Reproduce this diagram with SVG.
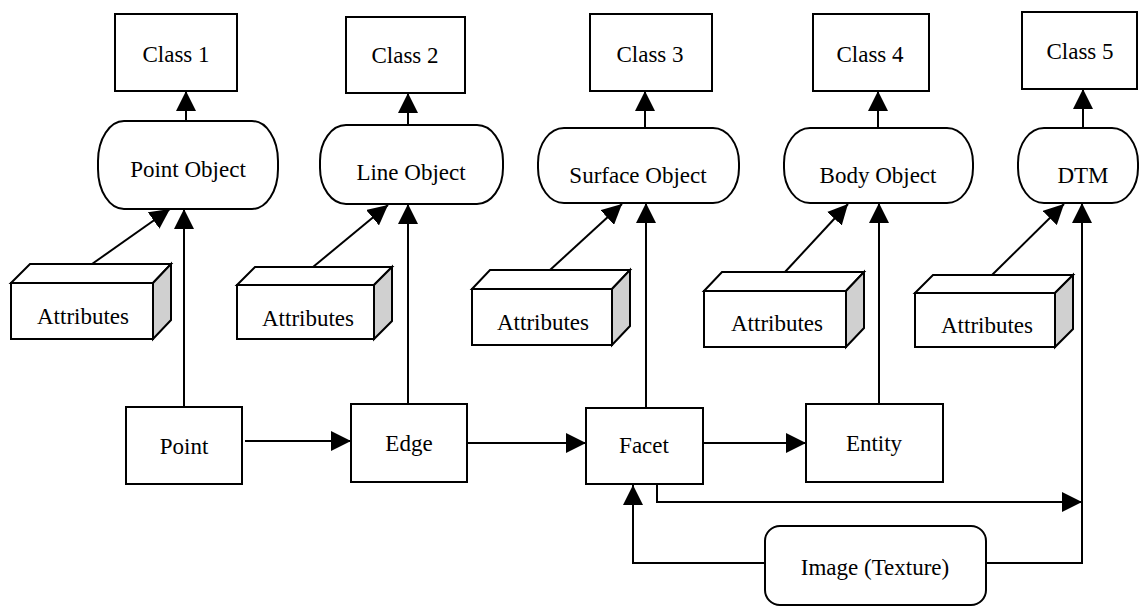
<svg xmlns="http://www.w3.org/2000/svg" width="1140" height="607" viewBox="0 0 1140 607">
<style>
.box{fill:#fff;stroke:#000;stroke-width:2}
.side{fill:#d0d0d0;stroke:#000;stroke-width:2;stroke-linejoin:miter}
.t{font-family:"Liberation Serif","Times New Roman",serif;font-size:23px;fill:#000;text-anchor:middle}
.c{fill:none;stroke:#000;stroke-width:2}
</style>
<defs>
<marker id="ah" markerUnits="userSpaceOnUse" markerWidth="20" markerHeight="20" refX="20" refY="10" orient="auto">
<path d="M0,0 L20,10 L0,20 z" fill="#000"/>
</marker>
</defs>
<rect width="1140" height="607" fill="#fff"/>

<g id="class1"><rect class="box" x="115" y="14" width="122" height="77"/><text class="t" x="176" y="62">Class 1</text></g>
<g id="class2"><rect class="box" x="346" y="17" width="119" height="76"/><text class="t" x="405" y="63">Class 2</text></g>
<g id="class3"><rect class="box" x="590" y="14" width="122" height="77"/><text class="t" x="650" y="62">Class 3</text></g>
<g id="class4"><rect class="box" x="813" y="14" width="116" height="77"/><text class="t" x="870" y="62">Class 4</text></g>
<g id="class5"><rect class="box" x="1022" y="12" width="115" height="77"/><text class="t" x="1080" y="59">Class 5</text></g>

<g id="pointObject"><rect class="box" x="98" y="121" width="180" height="88" rx="26" ry="40"/><text class="t" x="188" y="177">Point Object</text></g>
<g id="lineObject"><rect class="box" x="320" y="125" width="183" height="79" rx="26" ry="36"/><text class="t" x="411" y="180">Line Object</text></g>
<g id="surfaceObject"><rect class="box" x="538" y="128" width="201" height="75" rx="26" ry="35"/><text class="t" x="638" y="183">Surface Object</text></g>
<g id="bodyObject"><rect class="box" x="784" y="128" width="189" height="75" rx="26" ry="35"/><text class="t" x="878" y="183">Body Object</text></g>
<g id="dtm"><rect class="box" x="1018" y="128" width="120" height="75" rx="26" ry="35"/><text class="t" x="1083" y="183">DTM</text></g>

<g id="attributes1"><path class="box" d="M11,283 L30,264 L171,264 L153,283 Z"/><path class="side" d="M153,283 L171,264 L171,320 L153,339 Z"/><rect class="box" x="11" y="283" width="142" height="56"/><text class="t" x="83" y="324">Attributes</text></g>
<g id="attributes2"><path class="box" d="M237,285 L255,267 L392,267 L374,285 Z"/><path class="side" d="M374,285 L392,267 L392,321 L374,339 Z"/><rect class="box" x="237" y="285" width="137" height="54"/><text class="t" x="308" y="326">Attributes</text></g>
<g id="attributes3"><path class="box" d="M472,289 L490,270 L630,270 L612,289 Z"/><path class="side" d="M612,289 L630,270 L630,326 L612,345 Z"/><rect class="box" x="472" y="289" width="140" height="56"/><text class="t" x="543" y="330">Attributes</text></g>
<g id="attributes4"><path class="box" d="M704,291 L722,272 L864,272 L846,291 Z"/><path class="side" d="M846,291 L864,272 L864,328 L846,347 Z"/><rect class="box" x="704" y="291" width="142" height="56"/><text class="t" x="777" y="331">Attributes</text></g>
<g id="attributes5"><path class="box" d="M915,293 L933,275 L1073,275 L1055,293 Z"/><path class="side" d="M1055,293 L1073,275 L1073,329 L1055,347 Z"/><rect class="box" x="915" y="293" width="140" height="54"/><text class="t" x="987" y="333">Attributes</text></g>

<g id="point"><rect class="box" x="126" y="407" width="116" height="77"/><text class="t" x="184" y="454">Point</text></g>
<g id="edge"><rect class="box" x="351" y="404" width="116" height="78"/><text class="t" x="409" y="451">Edge</text></g>
<g id="facet"><rect class="box" x="586" y="408" width="117" height="76"/><text class="t" x="644" y="453">Facet</text></g>
<g id="entity"><rect class="box" x="806" y="404" width="137" height="78"/><text class="t" x="874" y="451">Entity</text></g>
<g id="image"><rect class="box" x="765" y="526" width="221" height="79" rx="15" ry="15"/><text class="t" x="875" y="575">Image (Texture)</text></g>

<g id="connectors" class="c">
<path class="c" d="M186,121 L186,91" marker-end="url(#ah)"/>
<path class="c" d="M408,125 L408,93" marker-end="url(#ah)"/>
<path class="c" d="M645,128 L645,91" marker-end="url(#ah)"/>
<path class="c" d="M878,128 L878,91" marker-end="url(#ah)"/>
<path class="c" d="M1083,128 L1083,89" marker-end="url(#ah)"/>
<path class="c" d="M92,264 L170,209" marker-end="url(#ah)"/>
<path class="c" d="M313,267 L388,205" marker-end="url(#ah)"/>
<path class="c" d="M550,270 L622,204" marker-end="url(#ah)"/>
<path class="c" d="M785,272 L848,204" marker-end="url(#ah)"/>
<path class="c" d="M992,275 L1064,204" marker-end="url(#ah)"/>
<path class="c" d="M184,407 L184,209" marker-end="url(#ah)"/>
<path class="c" d="M408,404 L408,204" marker-end="url(#ah)"/>
<path class="c" d="M646,408 L646,203" marker-end="url(#ah)"/>
<path class="c" d="M879,404 L879,203" marker-end="url(#ah)"/>
<path class="c" d="M986,563 L1082,563 L1082,203" marker-end="url(#ah)"/>
<path class="c" d="M245,441 L351,441" marker-end="url(#ah)"/>
<path class="c" d="M467,443 L586,443" marker-end="url(#ah)"/>
<path class="c" d="M703,443 L806,443" marker-end="url(#ah)"/>
<path class="c" d="M657,484 L657,502 L1082,502" marker-end="url(#ah)"/>
<path class="c" d="M765,563 L633,563 L633,485" marker-end="url(#ah)"/>
</g>
</svg>
